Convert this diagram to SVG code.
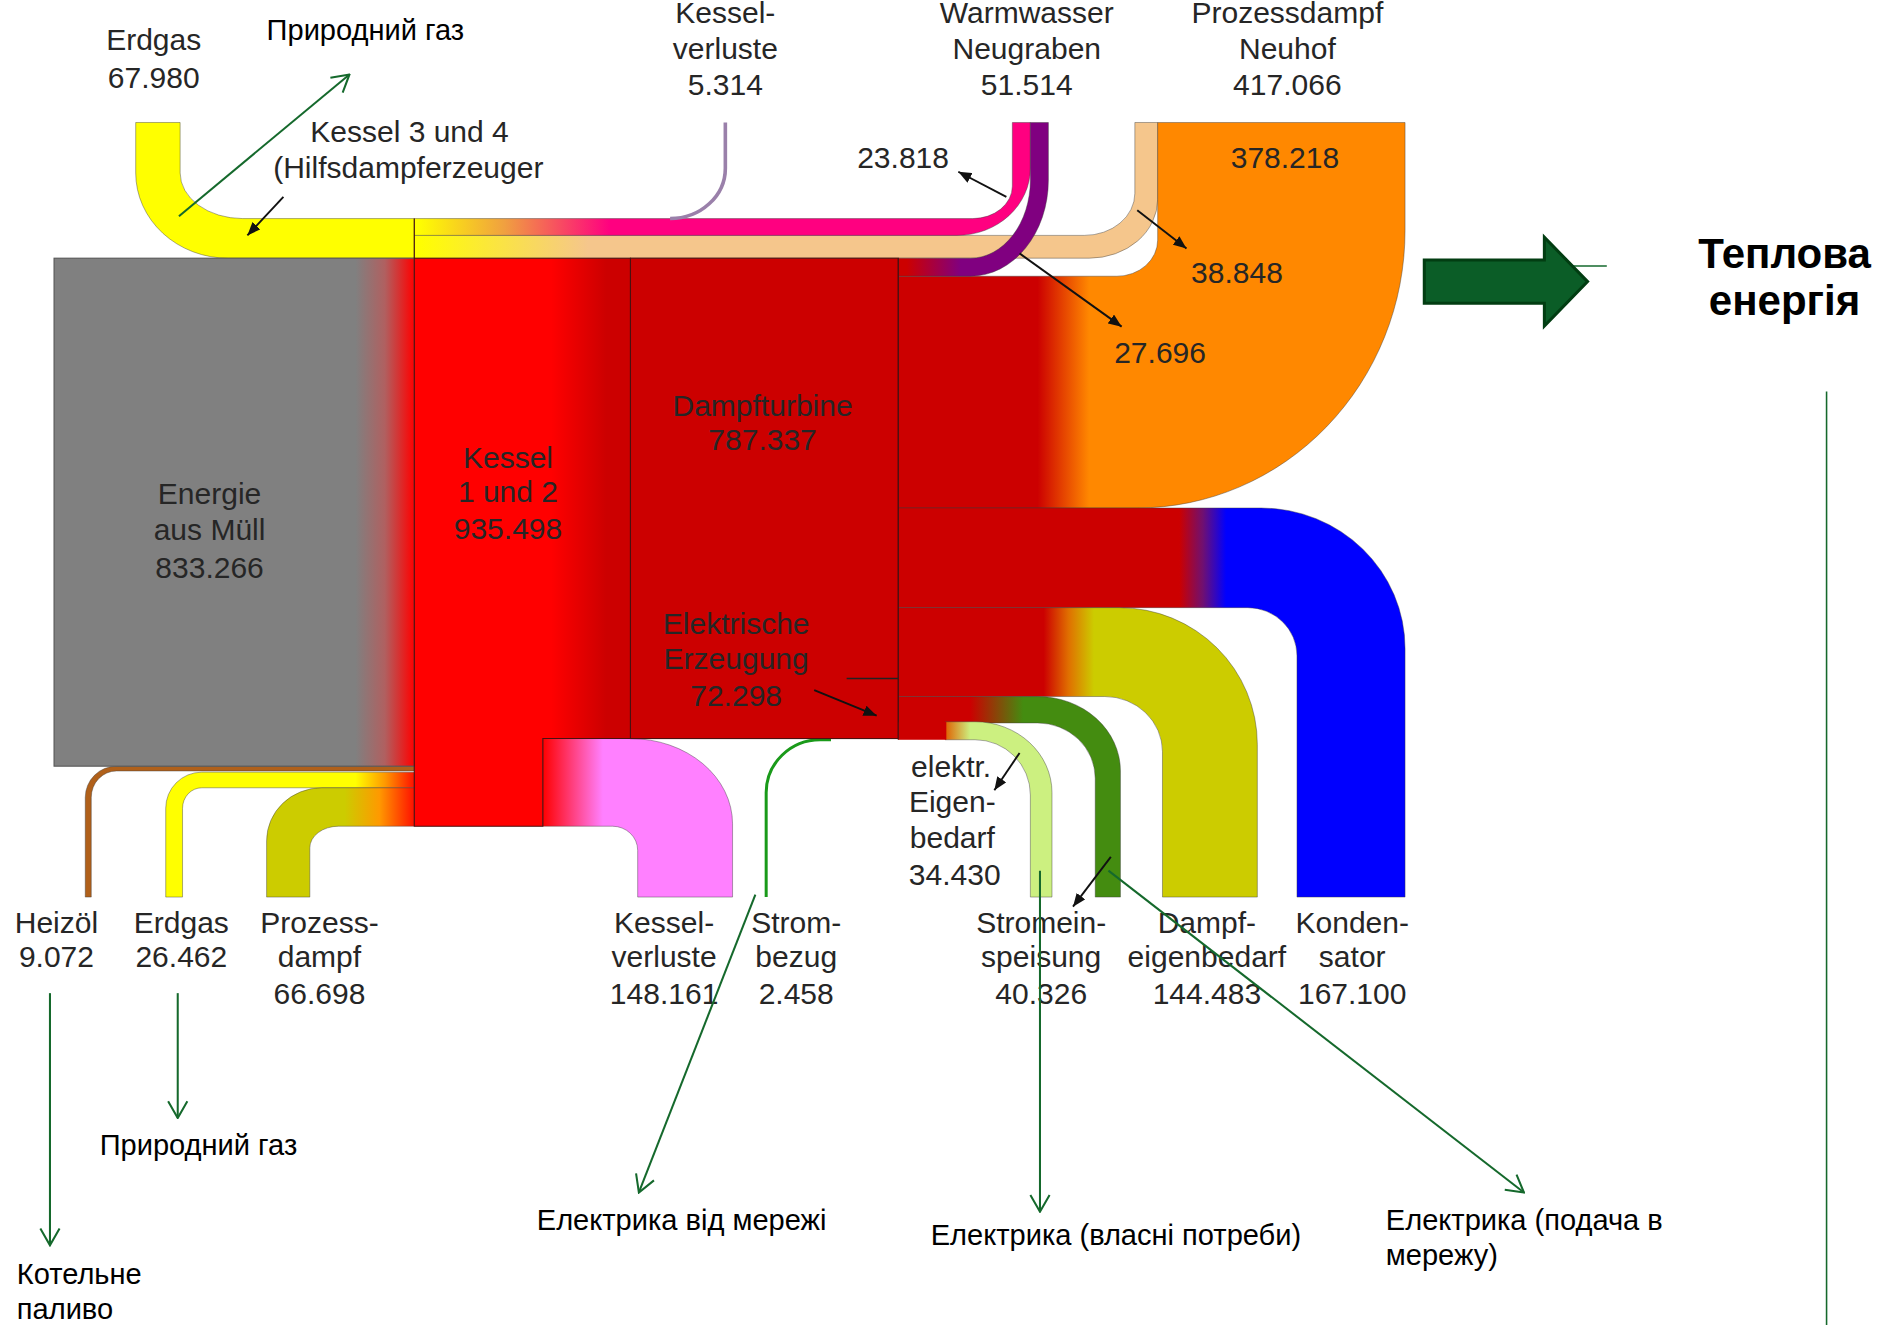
<svg xmlns="http://www.w3.org/2000/svg" width="1883" height="1325" viewBox="0 0 1883 1325">
<defs>
<style>
.lbl{font-family:"Liberation Sans",Arial,sans-serif;font-size:25px;fill:#262626;text-anchor:middle}
.ua{font-family:"Liberation Sans",Arial,sans-serif;font-size:24.2px;fill:#000}
.big{font-family:"Liberation Sans",Arial,sans-serif;font-size:35px;font-weight:bold;fill:#000;text-anchor:middle}
.flow{stroke:#3a3a3a;stroke-width:0.6;stroke-opacity:0.6}
.box{stroke:#4a1010;stroke-width:0.9}
.blk{stroke:#111;stroke-width:1.6;fill:none}
.grn{stroke:#15692c;stroke-width:1.7;fill:none}
</style>
<linearGradient id="gGray" gradientUnits="userSpaceOnUse" x1="296" y1="0" x2="345" y2="0"><stop offset="0" stop-color="#808080"/><stop offset="0.5" stop-color="#b06060"/><stop offset="1" stop-color="#ff0000"/></linearGradient>
<linearGradient id="gKessel" gradientUnits="userSpaceOnUse" x1="459" y1="0" x2="505" y2="0"><stop offset="0" stop-color="#ff0000"/><stop offset="1" stop-color="#cc0000"/></linearGradient>
<linearGradient id="gPink" gradientUnits="userSpaceOnUse" x1="348" y1="0" x2="508" y2="0"><stop offset="0" stop-color="#ffff00"/><stop offset="0.45" stop-color="#f0a040"/><stop offset="1" stop-color="#ff0080"/></linearGradient>
<linearGradient id="gPeach" gradientUnits="userSpaceOnUse" x1="348" y1="0" x2="490" y2="0"><stop offset="0" stop-color="#ffff00"/><stop offset="1" stop-color="#f5c68c"/></linearGradient>
<linearGradient id="gPurple" gradientUnits="userSpaceOnUse" x1="755" y1="0" x2="800" y2="0"><stop offset="0" stop-color="#cc0000"/><stop offset="1" stop-color="#800080"/></linearGradient>
<linearGradient id="gOrange" gradientUnits="userSpaceOnUse" x1="864" y1="0" x2="907" y2="0"><stop offset="0" stop-color="#cc0000"/><stop offset="1" stop-color="#ff8800"/></linearGradient>
<linearGradient id="gBlue" gradientUnits="userSpaceOnUse" x1="982" y1="0" x2="1021" y2="0"><stop offset="0" stop-color="#cc0000"/><stop offset="0.5" stop-color="#701070"/><stop offset="1" stop-color="#0000ff"/></linearGradient>
<linearGradient id="gOlive" gradientUnits="userSpaceOnUse" x1="869" y1="0" x2="911" y2="0"><stop offset="0" stop-color="#cc0000"/><stop offset="0.5" stop-color="#e07000"/><stop offset="1" stop-color="#cccc00"/></linearGradient>
<linearGradient id="gDkGreen" gradientUnits="userSpaceOnUse" x1="808" y1="0" x2="852" y2="0"><stop offset="0" stop-color="#cc0000"/><stop offset="1" stop-color="#448c10"/></linearGradient>
<linearGradient id="gLtGreen" gradientUnits="userSpaceOnUse" x1="787" y1="0" x2="808" y2="0"><stop offset="0" stop-color="#e06000"/><stop offset="1" stop-color="#ccf080"/></linearGradient>
<linearGradient id="gPinkL" gradientUnits="userSpaceOnUse" x1="452" y1="0" x2="502" y2="0"><stop offset="0" stop-color="#ff0000"/><stop offset="1" stop-color="#ff80ff"/></linearGradient>
<linearGradient id="gYelB" gradientUnits="userSpaceOnUse" x1="296" y1="0" x2="345" y2="0"><stop offset="0" stop-color="#ffff00"/><stop offset="0.5" stop-color="#ff9900"/><stop offset="1" stop-color="#ff1000"/></linearGradient>
<linearGradient id="gOliveB" gradientUnits="userSpaceOnUse" x1="287" y1="0" x2="345" y2="0"><stop offset="0" stop-color="#cccc00"/><stop offset="0.5" stop-color="#ff9900"/><stop offset="1" stop-color="#ff1000"/></linearGradient>
<marker id="ah" viewBox="0 0 11 9" refX="11" refY="4.5" markerWidth="11" markerHeight="9" markerUnits="userSpaceOnUse" orient="auto"><path d="M0,0 L11,4.5 L0,9 z" fill="#111"/></marker>
<marker id="gh" viewBox="0 0 16 18" refX="15" refY="9" markerWidth="16" markerHeight="18" markerUnits="userSpaceOnUse" orient="auto"><path d="M1,1 L15,9 L1,17" fill="none" stroke="#15692c" stroke-width="1.7"/></marker>
</defs>
<rect width="1883" height="1325" fill="#ffffff"/>
<g transform="scale(1.2009)">
<g id="connectors">
<path class="flow" d="M113 102 L150 102 L150 144 A52 38 0 0 0 202 182 L345 182 L345 215 L190 215 A77 71 0 0 1 113 144 Z" fill="#ffff00"/>
<path class="flow" d="M345 196 L903 196 A42 35 0 0 0 945 161 L945 102 L964 102 L964 166 A57 49 0 0 1 907 215 L345 215 Z" fill="url(#gPeach)"/>
<path class="flow" d="M345 182 L810 182 A33 27 0 0 0 843 155 L843 102 L858 102 L858 140 A61 56 0 0 1 797 196 L345 196 Z" fill="url(#gPink)"/>
<path d="M604 102 L604 140 A46 42 0 0 1 558 182" fill="none" stroke="#9a80aa" stroke-width="3"/>
<path class="flow" d="M748 230 L930 230 A34 30 0 0 0 964 200 L964 102 L1170 102 L1170 192 A223 231 0 0 1 947 423 L748 423 Z" fill="url(#gOrange)"/>
<path class="flow" d="M748 215 L808 215 A50 65 0 0 0 858 150 L858 102 L873 102 L873 150 A65 80 0 0 1 808 230 L748 230 Z" fill="url(#gPurple)"/>
<path class="flow" d="M748 423 L1050 423 A120 117 0 0 1 1170 540 L1170 747 L1080 747 L1080 546 A41 40 0 0 0 1039 506 L748 506 Z" fill="url(#gBlue)"/>
<path class="flow" d="M748 506 L932 506 A115 114 0 0 1 1047 620 L1047 747 L968 747 L968 626 A48 46 0 0 0 920 580 L748 580 Z" fill="url(#gOlive)"/>
<path class="flow" d="M748 580 L864 580 A69 62 0 0 1 933 642 L933 747 L912 747 L912 648 A48 46 0 0 0 864 602 L748 602 Z" fill="url(#gDkGreen)"/>
<path class="flow" d="M787 601 L812 601 A64 59 0 0 1 876 660 L876 747 L858 747 L858 662 A46 46 0 0 0 812 616 L787 616 Z" fill="url(#gLtGreen)"/>
<path class="flow" d="M345 638 L97 638 A26 26 0 0 0 71 664 L71 747 L76 747 L76 664 A21 22 0 0 1 97 642 L345 642 Z" fill="#b0601a"/>
<path class="flow" d="M345 643 L168 643 A30 30 0 0 0 138 673 L138 747 L152 747 L152 673 A16 17 0 0 1 168 656 L345 656 Z" fill="url(#gYelB)"/>
<path class="flow" d="M345 656 L268 656 A46 44 0 0 0 222 700 L222 747 L258 747 L258 706 A24 18 0 0 1 282 688 L345 688 Z" fill="url(#gOliveB)"/>
<path class="flow" d="M452 615 L525 615 A85 71 0 0 1 610 686 L610 747 L531 747 L531 708 A21 20 0 0 0 510 688 L452 688 Z" fill="url(#gPinkL)"/>
<path d="M638 747 L638 660 A45 44 0 0 1 683 616 L692 616" fill="none" stroke="#1a9a1a" stroke-width="2.5"/>
</g>
<g id="node-energie">
<rect class="box" x="45" y="215" width="300" height="423" fill="url(#gGray)" style="stroke:#555"/>
<text class="lbl" x="174.5" y="420">Energie</text>
<text class="lbl" x="174.5" y="450">aus Müll</text>
<text class="lbl" x="174.5" y="481">833.266</text>
</g>
<g id="node-kessel12">
<path class="box" d="M345 215 H525 V615 H452 V688 H345 Z" fill="url(#gKessel)"/>
<line x1="345" y1="182" x2="345" y2="215" stroke="#4a1010" stroke-width="0.9"/>
<text class="lbl" x="423" y="389.5">Kessel</text>
<text class="lbl" x="423" y="418">1 und 2</text>
<text class="lbl" x="423" y="448.5">935.498</text>
</g>
<g id="node-dampfturbine">
<rect class="box" x="525" y="215" width="223" height="400" fill="#cc0000"/>
<rect x="748" y="601" width="40" height="15" fill="#cc0000"/>
<line x1="748" y1="215" x2="748" y2="616" stroke="#4a1010" stroke-width="0.9"/>
<line x1="705" y1="565" x2="748" y2="565" stroke="#222" stroke-width="1.4"/>
<text class="lbl" x="635" y="346.5">Dampfturbine</text>
<text class="lbl" x="635" y="374.5">787.337</text>
<text class="lbl" x="613" y="528">Elektrische</text>
<text class="lbl" x="613" y="557">Erzeugung</text>
<text class="lbl" x="613" y="588">72.298</text>
</g>
<g id="node-erdgas-top">
<text class="lbl" x="128" y="42">Erdgas</text>
<text class="lbl" x="128" y="73">67.980</text>
<text class="lbl" x="341" y="118">Kessel 3 und 4</text>
<text class="lbl" x="340" y="148">(Hilfsdampferzeuger</text>
</g>
<g id="node-kesselverluste-top">
<text class="lbl" x="604" y="19.5">Kessel-</text>
<text class="lbl" x="604" y="49">verluste</text>
<text class="lbl" x="604" y="79">5.314</text>
</g>
<g id="node-warmwasser">
<text class="lbl" x="855" y="19.5">Warmwasser</text>
<text class="lbl" x="855" y="49">Neugraben</text>
<text class="lbl" x="855" y="79">51.514</text>
<text class="lbl" x="752" y="140">23.818</text>
</g>
<g id="node-prozessdampf">
<text class="lbl" x="1072" y="19.5">Prozessdampf</text>
<text class="lbl" x="1072" y="49">Neuhof</text>
<text class="lbl" x="1072" y="79">417.066</text>
<text class="lbl" x="1070" y="140">378.218</text>
<text class="lbl" x="1030" y="236">38.848</text>
<text class="lbl" x="966" y="302">27.696</text>
</g>
<g id="node-eigenbedarf">
<text class="lbl" x="792" y="647">elektr.</text>
<text class="lbl" x="793" y="676">Eigen-</text>
<text class="lbl" x="793" y="706">bedarf</text>
<text class="lbl" x="795" y="737">34.430</text>
</g>
<g id="node-bottom-labels">
<text class="lbl" x="47" y="777">Heizöl</text>
<text class="lbl" x="47" y="805.5">9.072</text>
<text class="lbl" x="151" y="777">Erdgas</text>
<text class="lbl" x="151" y="805.5">26.462</text>
<text class="lbl" x="266" y="777">Prozess-</text>
<text class="lbl" x="266" y="805.5">dampf</text>
<text class="lbl" x="266" y="836">66.698</text>
<text class="lbl" x="553" y="777">Kessel-</text>
<text class="lbl" x="553" y="805.5">verluste</text>
<text class="lbl" x="553" y="836">148.161</text>
<text class="lbl" x="663" y="777">Strom-</text>
<text class="lbl" x="663" y="805.5">bezug</text>
<text class="lbl" x="663" y="836">2.458</text>
<text class="lbl" x="867" y="777">Stromein-</text>
<text class="lbl" x="867" y="805.5">speisung</text>
<text class="lbl" x="867" y="836">40.326</text>
<text class="lbl" x="1005" y="777">Dampf-</text>
<text class="lbl" x="1005" y="805.5">eigenbedarf</text>
<text class="lbl" x="1005" y="836">144.483</text>
<text class="lbl" x="1126" y="777">Konden-</text>
<text class="lbl" x="1126" y="805.5">sator</text>
<text class="lbl" x="1126" y="836">167.100</text>
</g>
<g id="pointers">
<line class="blk" x1="236" y1="164" x2="206" y2="196" marker-end="url(#ah)"/>
<line class="blk" x1="838" y1="164" x2="798" y2="143" marker-end="url(#ah)"/>
<line class="blk" x1="947" y1="175" x2="988" y2="207" marker-end="url(#ah)"/>
<line class="blk" x1="849" y1="211" x2="934" y2="272" marker-end="url(#ah)"/>
<line class="blk" x1="678" y1="574.6" x2="730" y2="596" marker-end="url(#ah)"/>
<line class="blk" x1="849" y1="627" x2="828" y2="658" marker-end="url(#ah)"/>
<line class="blk" x1="925" y1="713.5" x2="893.5" y2="755" marker-end="url(#ah)"/>
</g>
<g id="annotations">
<line class="grn" x1="149" y1="180" x2="291" y2="62" marker-end="url(#gh)"/>
<line class="grn" x1="41.6" y1="827" x2="41.6" y2="1037" marker-end="url(#gh)"/>
<line class="grn" x1="148" y1="827" x2="148" y2="931" marker-end="url(#gh)"/>
<line class="grn" x1="629" y1="745" x2="532" y2="993" marker-end="url(#gh)"/>
<line class="grn" x1="866" y1="725" x2="866" y2="1009" marker-end="url(#gh)"/>
<line class="grn" x1="923" y1="725" x2="1269" y2="993" marker-end="url(#gh)"/>
<line x1="1521" y1="326" x2="1521" y2="1104" stroke="#15692c" stroke-width="1.3"/>
<line x1="1300" y1="221.5" x2="1338" y2="221.5" stroke="#15692c" stroke-width="1.2"/>
<path d="M1186 216.5 L1286 216.5 L1286 197.5 L1322 234.5 L1286 271.5 L1286 252.5 L1186 252.5 Z" fill="#0b5d27" stroke="#023d12" stroke-width="2.5"/>
<text class="ua" x="222" y="33">Природний газ</text>
<text class="ua" x="83" y="962">Природний газ</text>
<text class="ua" x="14" y="1069">Котельне</text>
<text class="ua" x="14" y="1098">паливо</text>
<text class="ua" x="447" y="1024">Електрика від мережі</text>
<text class="ua" x="775" y="1037">Електрика (власні потреби)</text>
<text class="ua" x="1154" y="1024">Електрика (подача в</text>
<text class="ua" x="1154" y="1053">мережу)</text>
<text class="big" x="1486" y="223">Теплова</text>
<text class="big" x="1486" y="262.5">енергія</text>
</g>
</g>
</svg>
